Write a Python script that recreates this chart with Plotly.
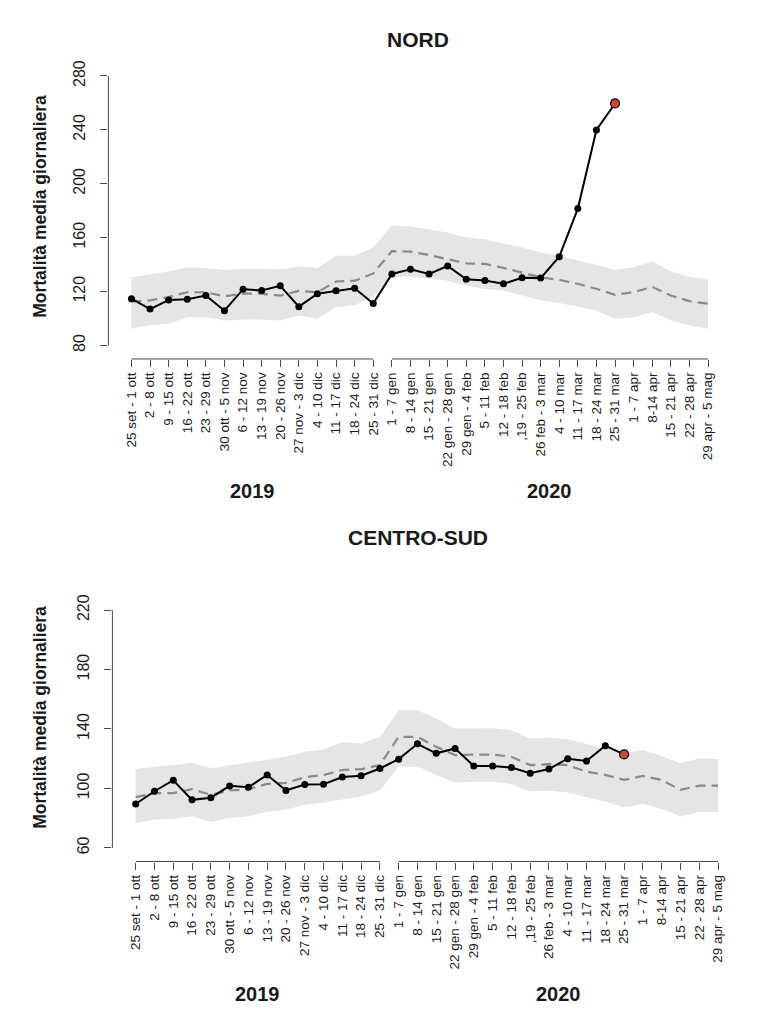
import plotly.graph_objects as go

# Settimane (asse x)
weeks_2019 = ["25 set - 1 ott", "2 - 8 ott", "9 - 15 ott", "16 - 22 ott", "23 - 29 ott",
              "30 ott - 5 nov", "6 - 12 nov", "13 - 19 nov", "20 - 26 nov", "27 nov - 3 dic",
              "4 - 10 dic", "11 - 17 dic", "18 - 24 dic", "25 - 31 dic"]
weeks_2020 = ["1 - 7 gen", "8 - 14 gen", "15 - 21 gen", "22 gen - 28 gen", "29 gen - 4 feb",
              "5 - 11 feb", "12 - 18 feb", ",19 - 25 feb", "26 feb - 3 mar", "4 - 10 mar",
              "11 - 17 mar", "18 - 24 mar", "25 - 31 mar", "1 - 7 apr", "8-14 apr",
              "15 - 21 apr", "22 - 28 apr", "29 apr - 5 mag"]
weeks = weeks_2019 + weeks_2020

# NORD
nord_observed = [114.7, 107.0, 113.7, 114.3, 117.1, 105.8, 121.8, 120.8, 124.3, 108.8, 118.4,
                 120.6, 122.5, 111.2, 133.1, 136.5, 133.1, 139.0, 129.2, 128.2, 125.8, 130.2,
                 130.0, 145.9, 181.6, 239.9, 259.6]
nord_expected = [112.5, 113.5, 116.0, 119.5, 119.5, 116.5, 118.5, 118.5, 117.0, 120.5, 119.5,
                 127.5, 128.0, 133.5, 150.0, 149.6, 147.1, 143.9, 141.0, 140.5, 137.6, 134.1,
                 130.6, 128.7, 125.8, 122.1, 117.6, 119.6, 123.5, 117.1, 112.9, 111.0]
nord_upper = [130.6, 133.0, 135.0, 138.0, 137.6, 136.0, 137.0, 137.0, 136.5, 138.7, 137.6,
              146.6, 146.6, 152.8, 169.0, 168.3, 166.3, 163.8, 160.1, 158.9, 155.7, 152.8,
              149.1, 146.6, 143.0, 140.0, 136.1, 138.1, 142.5, 135.1, 130.6, 129.4]
nord_lower = [92.5, 95.0, 96.2, 101.0, 101.0, 98.6, 99.3, 99.3, 98.6, 102.3, 99.8,
              108.5, 109.8, 115.9, 131.0, 131.0, 129.7, 128.0, 124.5, 122.0, 120.8, 117.1,
              113.5, 111.5, 109.0, 106.0, 99.9, 101.0, 104.8, 98.6, 95.0, 92.5]
nord_ticks = [80, 120, 160, 200, 240, 280]

# CENTRO-SUD
sud_observed = [89.5, 98.1, 105.5, 92.3, 93.7, 101.7, 100.8, 109.1, 98.6, 102.6, 102.8,
                107.7, 108.5, 113.4, 119.7, 130.0, 123.6, 126.9, 115.1, 115.1, 114.0, 110.2,
                113.1, 120.0, 118.4, 128.7, 122.9]
sud_expected = [94.1, 96.8, 96.8, 99.5, 95.7, 98.6, 99.5, 103.0, 103.7, 107.5, 109.0,
                112.4, 112.9, 115.7, 134.7, 134.7, 128.0, 122.4, 122.8, 122.8, 121.3, 115.7,
                116.3, 115.7, 111.3, 109.1, 105.7, 108.4, 105.7, 99.0, 101.9, 101.9]
sud_upper = [113.0, 114.6, 115.5, 117.3, 113.5, 115.5, 117.3, 119.8, 121.3, 124.7, 126.2,
             131.0, 130.3, 134.7, 152.6, 152.6, 147.0, 140.3, 140.5, 140.5, 139.2, 133.6,
             134.1, 133.0, 129.8, 126.9, 123.6, 125.9, 121.8, 116.9, 120.2, 119.8]
sud_lower = [76.7, 79.0, 79.4, 81.2, 77.4, 80.1, 81.2, 84.3, 85.6, 89.0, 90.6,
             92.3, 94.5, 98.6, 114.6, 114.6, 109.1, 104.2, 104.5, 104.5, 103.0, 97.9,
             98.4, 97.3, 94.1, 91.2, 87.2, 89.6, 86.1, 81.2, 84.1, 84.1]
sud_ticks = [60, 100, 140, 180, 220]

FONT = "Liberation Sans, Arial, sans-serif"
AXIS_COL = "#4a4a4a"
TEXT_COL = "#1a1a1a"
W, H = 767, 1028
OFF = 8  # margine del body html


def fx(px):
    return (px - OFF) / W


def fy(py):
    return 1 - (py - OFF) / H


x_idx = list(range(len(weeks)))
n19 = len(weeks_2019)

panels = [
    dict(title="NORD", obs=nord_observed, exp=nord_expected, up=nord_upper, lo=nord_lower,
         ticks=nord_ticks, yrange=[70, 288],
         xdom=[fx(108.4), fx(731.1)], ydom=[fy(355), fy(59.5)],
         title_y=fy(34), year_y=fy(488), ytitle_y=fy(202)),
    dict(title="CENTRO-SUD", obs=sud_observed, exp=sud_expected, up=sud_upper, lo=sud_lower,
         ticks=sud_ticks, yrange=[50.8, 226.4],
         xdom=[fx(112.4), fx(741.3)], ydom=[fy(860.5), fy(598)],
         title_y=fy(535), year_y=fy(994), ytitle_y=fy(716)),
]

fig = go.Figure()
layout = {}
shapes = []
annotations = []

for i, p in enumerate(panels):
    sfx = "" if i == 0 else str(i + 1)
    xa, ya = "x" + sfx, "y" + sfx

    # banda grigia (intervallo)
    fig.add_trace(go.Scatter(x=x_idx, y=p["lo"], mode="lines", line=dict(width=0),
                             xaxis=xa, yaxis=ya, showlegend=False, hoverinfo="skip"))
    fig.add_trace(go.Scatter(x=x_idx, y=p["up"], mode="lines", line=dict(width=0),
                             fill="tonexty", fillcolor="#e5e5e5",
                             xaxis=xa, yaxis=ya, showlegend=False, hoverinfo="skip"))
    # atteso (tratteggiato)
    fig.add_trace(go.Scatter(x=x_idx, y=p["exp"], mode="lines",
                             line=dict(color="#8a8a8a", width=2.2, dash="10px,6px"),
                             xaxis=xa, yaxis=ya, showlegend=False))
    # osservato
    n_obs = len(p["obs"])
    fig.add_trace(go.Scatter(x=x_idx[:n_obs], y=p["obs"], mode="lines+markers",
                             line=dict(color="black", width=2),
                             marker=dict(color="black", size=7),
                             xaxis=xa, yaxis=ya, showlegend=False))
    # ultimo punto in rosso
    fig.add_trace(go.Scatter(x=[x_idx[n_obs - 1]], y=[p["obs"][-1]], mode="markers",
                             marker=dict(color="#c9473b", size=9,
                                         line=dict(color="black", width=1.2)),
                             xaxis=xa, yaxis=ya, showlegend=False))

    layout["xaxis" + sfx] = dict(
        domain=p["xdom"], anchor=ya, range=[-1.24, len(weeks) - 1 + 1.24],
        tickmode="array", tickvals=x_idx, ticktext=weeks, tickangle=-90,
        ticks="outside", ticklen=7, tickcolor=AXIS_COL, tickwidth=1,
        showline=False, showgrid=False, zeroline=False,
        tickfont=dict(family=FONT, size=13.5, color=TEXT_COL),
    )
    layout["yaxis" + sfx] = dict(
        domain=p["ydom"], anchor=xa, range=p["yrange"],
        tickmode="array", tickvals=p["ticks"], tickangle=-90,
        ticks="outside", ticklen=7, tickcolor=AXIS_COL, tickwidth=1,
        ticklabelstandoff=9,
        showline=False, showgrid=False, zeroline=False,
        tickfont=dict(family=FONT, size=16, color=TEXT_COL),
    )

    # assi in stile R: segmenti separati per anno
    for a, b in [(0, n19 - 1), (n19, len(weeks) - 1)]:
        shapes.append(dict(type="line", xref=xa, yref=ya + " domain",
                           x0=a, x1=b, y0=0, y1=0, line=dict(color=AXIS_COL, width=1)))
    shapes.append(dict(type="line", xref=xa + " domain", yref=ya,
                       x0=0, x1=0, y0=p["ticks"][0], y1=p["ticks"][-1],
                       line=dict(color=AXIS_COL, width=1)))

    annotations.append(dict(text="<b>" + p["title"] + "</b>", xref="paper", yref="paper",
                            x=fx(418), y=p["title_y"], xanchor="center", yanchor="middle",
                            showarrow=False, font=dict(family=FONT, size=21, color=TEXT_COL)))
    annotations.append(dict(text="<b>Mortalità media giornaliera</b>", xref="paper",
                            yref="paper", x=fx(40), y=p["ytitle_y"], textangle=-90,
                            xanchor="center", yanchor="middle", showarrow=False,
                            font=dict(family=FONT, size=17.5, color=TEXT_COL)))
    for label, a, b in [("2019", 0, n19 - 1), ("2020", n19, len(weeks) - 1)]:
        annotations.append(dict(text="<b>" + label + "</b>", xref=xa, yref="paper",
                                x=(a + b) / 2, y=p["year_y"], xanchor="center",
                                yanchor="middle", showarrow=False,
                                font=dict(family=FONT, size=20, color=TEXT_COL)))

fig.update_layout(
    **layout,
    width=W, height=H,
    margin=dict(l=0, r=0, t=0, b=0),
    plot_bgcolor="white", paper_bgcolor="white",
    shapes=shapes, annotations=annotations,
    font=dict(family=FONT),
    showlegend=False,
)

fig.write_html("out.html")
